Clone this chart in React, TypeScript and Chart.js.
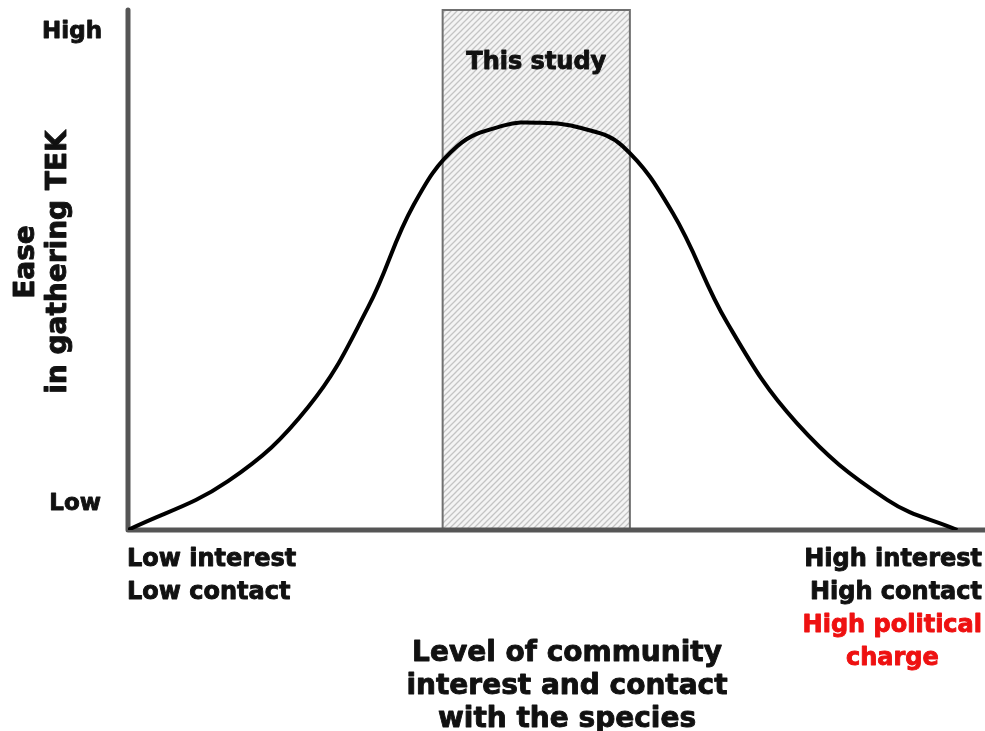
import React, { useEffect, useRef } from "react";
import { Chart, registerables } from "chart.js";

Chart.register(...registerables);

// Level of community interest (0 = low, 100 = high)
const LEVEL = [0, 11.7, 21.1, 28.1, 33.4, 38.5, 44.0, 48.2, 53.0, 57.8, 63.7, 70.1, 78.2, 88.8, 97.0];
// Ease in gathering TEK (0 = low, 100 = high)
const EASE = [0, 9.4, 23.7, 42.9, 62.5, 73.8, 77.8, 78.3, 77.3, 73.9, 61.0, 39.8, 20.6, 5.8, 0];

const STUDY_RANGE = [36.8, 58.7];
const STUDY_LABEL = "This study";
const Y_TICK_LABELS = ["Low", "High"];
const LEFT_END_LABELS = ["Low interest", "Low contact"];
const RIGHT_END_LABELS = ["High interest", "High contact"];
const RIGHT_RED_LABELS = ["High political", "charge"];
const X_TITLE = ["Level of community", "interest and contact", "with the species"];
const Y_TITLE = ["Ease", "in gathering TEK"];

const FONT = '"DejaVu Sans", Verdana, sans-serif';

function makeHatch(): CanvasPattern | string {
  const c = document.createElement("canvas");
  c.width = 6;
  c.height = 6;
  const g = c.getContext("2d");
  if (!g) return "#eee";
  g.fillStyle = "#f4f4f4";
  g.fillRect(0, 0, 6, 6);
  g.strokeStyle = "#c4c4c4";
  g.lineWidth = 1.3;
  g.beginPath();
  g.moveTo(-1, 7);
  g.lineTo(7, -1);
  g.moveTo(-1, 1);
  g.lineTo(1, -1);
  g.moveTo(5, 7);
  g.lineTo(7, 5);
  g.stroke();
  const p = g.createPattern(c, "repeat");
  return p || "#eee";
}

function heavyText(ctx: CanvasRenderingContext2D, t: string, x: number, y: number) {
  ctx.strokeStyle = ctx.fillStyle as string;
  ctx.lineWidth = 0.9;
  ctx.lineJoin = "round";
  ctx.strokeText(t, x, y);
  ctx.fillText(t, x, y);
}

const decorPlugin = {
  id: "decor",
  beforeDatasetsDraw(chart: any) {
    const { ctx, chartArea, scales } = chart;
    const x = scales.x;
    const y = scales.y;
    const x0 = x.getPixelForValue(STUDY_RANGE[0]);
    const x1 = x.getPixelForValue(STUDY_RANGE[1]);
    const top = y.getPixelForValue(100);
    const bot = y.getPixelForValue(0);
    ctx.save();
    ctx.fillStyle = makeHatch();
    ctx.fillRect(x0, top, x1 - x0, bot - top);
    ctx.strokeStyle = "#707070";
    ctx.lineWidth = 2;
    ctx.strokeRect(x0, top, x1 - x0, bot - top);

    ctx.fillStyle = "#111";
    ctx.font = `bold 24px ${FONT}`;
    ctx.textAlign = "center";
    ctx.textBaseline = "middle";
    heavyText(ctx, STUDY_LABEL, (x0 + x1) / 2, top + 53);

    // axes
    ctx.strokeStyle = "#555";
    ctx.lineWidth = 5;
    ctx.lineCap = "round";
    ctx.beginPath();
    ctx.moveTo(chartArea.left, top);
    ctx.lineTo(chartArea.left, bot);
    ctx.lineTo(chart.width, bot);
    ctx.stroke();
    ctx.restore();
  },
  afterDraw(chart: any) {
    const { ctx, chartArea, scales } = chart;
    const y = scales.y;
    const top = y.getPixelForValue(100);
    const bot = y.getPixelForValue(0);
    const left = chartArea.left;
    ctx.save();
    ctx.textBaseline = "middle";
    ctx.fillStyle = "#111";
    ctx.font = `bold 23px ${FONT}`;
    ctx.textAlign = "right";
    heavyText(ctx, Y_TICK_LABELS[1], left - 26, top + 22);
    heavyText(ctx, Y_TICK_LABELS[0], left - 27, bot - 26);

    ctx.font = `bold 24px ${FONT}`;
    ctx.textAlign = "left";
    heavyText(ctx, LEFT_END_LABELS[0], left - 1, bot + 30);
    heavyText(ctx, LEFT_END_LABELS[1], left - 1, bot + 63);

    const right = chart.width - 3;
    ctx.textAlign = "right";
    heavyText(ctx, RIGHT_END_LABELS[0], right, bot + 30);
    heavyText(ctx, RIGHT_END_LABELS[1], right, bot + 63);
    ctx.fillStyle = "#ee1111";
    heavyText(ctx, RIGHT_RED_LABELS[0], right, bot + 96);
    const w = ctx.measureText(RIGHT_RED_LABELS[0]).width;
    ctx.textAlign = "center";
    heavyText(ctx, RIGHT_RED_LABELS[1], right - w / 2, bot + 129);

    ctx.fillStyle = "#111";
    ctx.font = `bold 28px ${FONT}`;
    X_TITLE.forEach((t, i) => heavyText(ctx, t, 567, bot + 124 + i * 33));

    ctx.translate(0, 262);
    ctx.rotate(-Math.PI / 2);
    ctx.textAlign = "center";
    ctx.font = `bold 28px ${FONT}`;
    heavyText(ctx, Y_TITLE[0], 0, 27);
    heavyText(ctx, Y_TITLE[1], 0, 59);
    ctx.restore();
  },
};

export default function App() {
  const ref = useRef<HTMLCanvasElement | null>(null);
  useEffect(() => {
    document.body.style.margin = "0";
    if (!ref.current) return;
    const chart = new Chart(ref.current, {
      type: "line",
      data: {
        datasets: [
          {
            data: LEVEL.map((v, i) => ({ x: v, y: EASE[i] })),
            borderColor: "#000",
            borderWidth: 4,
            pointRadius: 0,
            tension: 0.4,
            fill: false,
          },
        ],
      },
      options: {
        animation: false,
        responsive: false,
        layout: { padding: { left: 128, right: 2, top: 10, bottom: 201 } },
        plugins: { legend: { display: false }, tooltip: { enabled: false } },
        scales: {
          x: { type: "linear", min: 0, max: 100, display: false },
          y: { type: "linear", min: 0, max: 100, display: false },
        },
      },
      plugins: [decorPlugin],
    });
    return () => chart.destroy();
  }, []);
  return (
    <div style={{ width: 985, height: 731, background: "#fff" }}>
      <canvas ref={ref} width={985} height={731} />
    </div>
  );
}
